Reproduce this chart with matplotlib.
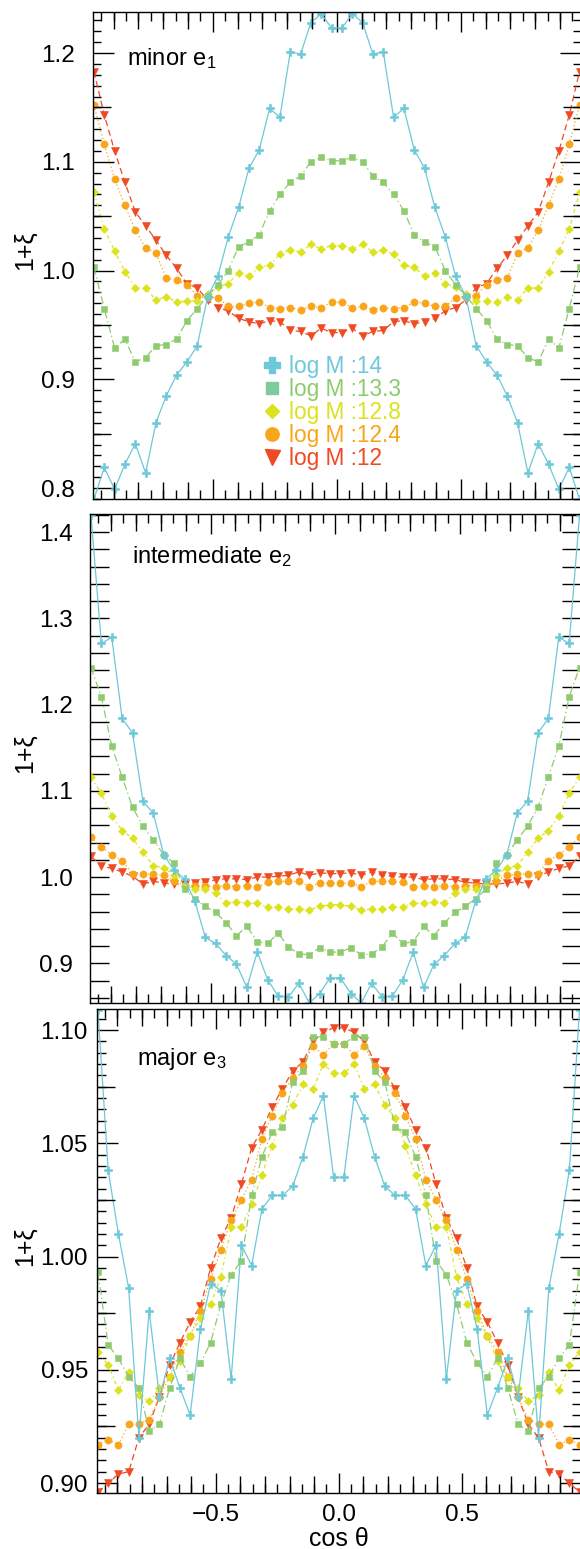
import numpy as np
import matplotlib
matplotlib.use("Agg")
import matplotlib.pyplot as plt
from matplotlib.lines import Line2D
from matplotlib.ticker import MultipleLocator, FuncFormatter, NullLocator

plt.rcParams["font.family"] = ["Liberation Sans", "DejaVu Sans"]
plt.rcParams["mathtext.fontset"] = "custom"
plt.rcParams["mathtext.rm"] = "Liberation Sans"
plt.rcParams["mathtext.it"] = "Liberation Sans:italic"
plt.rcParams["mathtext.default"] = "regular"

# ---------------- data ----------------
COS_THETA = np.linspace(-23.5 / 24, 23.5 / 24, 48)
MASS_LABELS = ["log M :14", "log M :13.3", "log M :12.8", "log M :12.4", "log M :12"]
PANEL_NAMES = ["minor e$_1$", "intermediate e$_2$", "major e$_3$"]

# panel 1 : minor axis e1
E1_M14 = [0.790, 0.819, 0.799, 0.822, 0.841, 0.814, 0.860, 0.885, 0.904, 0.916, 0.931, 0.976,
          0.995, 1.031, 1.058, 1.094, 1.111, 1.149, 1.141, 1.201, 1.199, 1.228, 1.236, 1.223,
          1.223, 1.236, 1.228, 1.199, 1.201, 1.141, 1.149, 1.111, 1.094, 1.058, 1.031, 0.995,
          0.976, 0.931, 0.916, 0.904, 0.885, 0.860, 0.814, 0.841, 0.822, 0.799, 0.819, 0.790]
E1_M133 = [1.003, 0.965, 0.929, 0.937, 0.916, 0.920, 0.931, 0.932, 0.937, 0.954, 0.965, 0.977,
           0.987, 1.000, 1.022, 1.026, 1.033, 1.055, 1.070, 1.081, 1.087, 1.100, 1.104, 1.101,
           1.101, 1.104, 1.100, 1.087, 1.081, 1.070, 1.055, 1.033, 1.026, 1.022, 1.000, 0.987,
           0.977, 0.965, 0.954, 0.937, 0.932, 0.931, 0.920, 0.916, 0.937, 0.929, 0.965, 1.003]
E1_M128 = [1.072, 1.038, 1.018, 0.999, 0.984, 0.984, 0.973, 0.976, 0.971, 0.972, 0.972, 0.978,
           0.985, 0.988, 0.998, 0.995, 1.003, 1.005, 1.015, 1.019, 1.017, 1.024, 1.020, 1.023,
           1.023, 1.020, 1.024, 1.017, 1.019, 1.015, 1.005, 1.003, 0.995, 0.998, 0.988, 0.985,
           0.978, 0.972, 0.972, 0.971, 0.976, 0.973, 0.984, 0.984, 0.999, 1.018, 1.038, 1.072]
E1_M124 = [1.152, 1.116, 1.084, 1.060, 1.037, 1.021, 1.016, 0.993, 0.991, 0.987, 0.977, 0.976,
           0.975, 0.967, 0.967, 0.970, 0.971, 0.966, 0.965, 0.966, 0.964, 0.967, 0.966, 0.971,
           0.971, 0.966, 0.967, 0.964, 0.966, 0.965, 0.966, 0.971, 0.970, 0.967, 0.967, 0.975,
           0.976, 0.977, 0.987, 0.991, 0.993, 1.016, 1.021, 1.037, 1.060, 1.084, 1.116, 1.152]
E1_M12 = [1.183, 1.143, 1.110, 1.081, 1.054, 1.041, 1.028, 1.014, 1.002, 0.988, 0.984, 0.973,
          0.966, 0.963, 0.956, 0.953, 0.951, 0.954, 0.953, 0.945, 0.944, 0.940, 0.947, 0.943,
          0.943, 0.947, 0.940, 0.944, 0.945, 0.953, 0.954, 0.951, 0.953, 0.956, 0.963, 0.966,
          0.973, 0.984, 0.988, 1.002, 1.014, 1.028, 1.041, 1.054, 1.081, 1.110, 1.143, 1.183]

# panel 2 : intermediate axis e2
E2_M14 = [1.420, 1.271, 1.278, 1.184, 1.167, 1.088, 1.074, 1.026, 1.008, 0.998, 0.972, 0.930,
          0.923, 0.909, 0.899, 0.872, 0.913, 0.881, 0.862, 0.861, 0.877, 0.854, 0.865, 0.883,
          0.883, 0.865, 0.854, 0.877, 0.861, 0.862, 0.881, 0.913, 0.872, 0.899, 0.909, 0.923,
          0.930, 0.972, 0.998, 1.008, 1.026, 1.074, 1.088, 1.167, 1.184, 1.278, 1.271, 1.420]
E2_M133 = [1.243, 1.209, 1.152, 1.116, 1.081, 1.059, 1.043, 1.026, 1.016, 0.986, 0.975, 0.966,
           0.959, 0.947, 0.932, 0.943, 0.925, 0.923, 0.935, 0.919, 0.911, 0.910, 0.918, 0.913,
           0.913, 0.918, 0.910, 0.911, 0.919, 0.935, 0.923, 0.925, 0.943, 0.932, 0.947, 0.959,
           0.966, 0.975, 0.986, 1.016, 1.026, 1.043, 1.059, 1.081, 1.116, 1.152, 1.209, 1.243]
E2_M128 = [1.116, 1.097, 1.071, 1.054, 1.045, 1.029, 1.013, 1.011, 1.002, 0.991, 0.986, 0.986,
           0.981, 0.970, 0.971, 0.970, 0.970, 0.965, 0.965, 0.963, 0.963, 0.962, 0.966, 0.968,
           0.968, 0.966, 0.962, 0.963, 0.963, 0.965, 0.965, 0.970, 0.970, 0.971, 0.970, 0.981,
           0.986, 0.986, 0.991, 1.002, 1.011, 1.013, 1.029, 1.045, 1.054, 1.071, 1.097, 1.116]
E2_M124 = [1.046, 1.035, 1.026, 1.019, 1.004, 1.004, 1.003, 1.002, 0.996, 0.990, 0.990, 0.990,
           0.989, 0.990, 0.989, 0.990, 0.988, 0.994, 0.995, 0.995, 0.995, 0.989, 0.993, 0.993,
           0.993, 0.993, 0.989, 0.995, 0.995, 0.995, 0.994, 0.988, 0.990, 0.989, 0.990, 0.989,
           0.990, 0.990, 0.990, 0.996, 1.002, 1.003, 1.004, 1.004, 1.019, 1.026, 1.035, 1.046]
E2_M12 = [1.024, 1.013, 1.010, 1.006, 1.001, 0.992, 0.995, 0.993, 0.992, 0.992, 0.993, 0.994,
          0.997, 0.998, 0.998, 0.997, 1.000, 1.000, 1.001, 1.002, 1.006, 1.002, 1.005, 1.004,
          1.004, 1.005, 1.002, 1.006, 1.002, 1.001, 1.000, 1.000, 0.997, 0.998, 0.998, 0.997,
          0.994, 0.993, 0.992, 0.992, 0.993, 0.995, 0.992, 1.001, 1.006, 1.010, 1.013, 1.024]

# panel 3 : major axis e3
E3_M14 = [1.109, 1.038, 1.010, 0.986, 0.920, 0.976, 0.938, 0.955, 0.942, 0.930, 0.968, 0.988,
          0.985, 0.946, 1.005, 0.996, 1.021, 1.027, 1.027, 1.031, 1.044, 1.061, 1.071, 1.035,
          1.035, 1.071, 1.061, 1.044, 1.031, 1.027, 1.027, 1.021, 0.996, 1.005, 0.946, 0.985,
          0.988, 0.968, 0.930, 0.942, 0.955, 0.938, 0.976, 0.920, 0.986, 1.010, 1.038, 1.109]
E3_M133 = [0.993, 0.961, 0.955, 0.947, 0.942, 0.923, 0.926, 0.942, 0.955, 0.947, 0.953, 0.962,
           0.979, 0.992, 0.998, 1.027, 1.044, 1.055, 1.057, 1.077, 1.082, 1.097, 1.097, 1.094,
           1.094, 1.097, 1.097, 1.082, 1.077, 1.057, 1.055, 1.044, 1.027, 0.998, 0.992, 0.979,
           0.962, 0.953, 0.947, 0.955, 0.942, 0.926, 0.923, 0.942, 0.947, 0.955, 0.961, 0.993]
E3_M128 = [0.958, 0.952, 0.941, 0.949, 0.939, 0.936, 0.942, 0.947, 0.954, 0.965, 0.973, 0.979,
           0.991, 1.013, 1.013, 1.023, 1.036, 1.049, 1.061, 1.067, 1.076, 1.074, 1.085, 1.081,
           1.081, 1.085, 1.074, 1.076, 1.067, 1.061, 1.049, 1.036, 1.023, 1.013, 1.013, 0.991,
           0.979, 0.973, 0.965, 0.954, 0.947, 0.942, 0.936, 0.939, 0.949, 0.941, 0.952, 0.958]
E3_M124 = [0.917, 0.919, 0.917, 0.926, 0.926, 0.928, 0.938, 0.947, 0.958, 0.965, 0.976, 0.990,
           1.003, 1.016, 1.025, 1.034, 1.052, 1.062, 1.072, 1.079, 1.084, 1.093, 1.089, 1.094,
           1.094, 1.089, 1.093, 1.084, 1.079, 1.072, 1.062, 1.052, 1.034, 1.025, 1.016, 1.003,
           0.990, 0.976, 0.965, 0.958, 0.947, 0.938, 0.928, 0.926, 0.926, 0.917, 0.919, 0.917]
E3_M12 = [0.896, 0.900, 0.904, 0.905, 0.920, 0.926, 0.938, 0.952, 0.962, 0.971, 0.978, 0.995,
          1.008, 1.017, 1.032, 1.048, 1.056, 1.066, 1.074, 1.082, 1.086, 1.095, 1.099, 1.101,
          1.101, 1.099, 1.095, 1.086, 1.082, 1.074, 1.066, 1.056, 1.048, 1.032, 1.017, 1.008,
          0.995, 0.978, 0.971, 0.962, 0.952, 0.938, 0.926, 0.920, 0.905, 0.904, 0.900, 0.896]

PANEL_DATA = [
    [E1_M14, E1_M133, E1_M128, E1_M124, E1_M12],
    [E2_M14, E2_M133, E2_M128, E2_M124, E2_M12],
    [E3_M14, E3_M133, E3_M128, E3_M124, E3_M12],
]

# ---------------- style ----------------
COLORS = ["#6DC8D9", "#8ECB6F", "#DCE21C", "#F9A51A", "#EF4A23"]
LEGEND_FACE = ["#6DC8D9", "#7FCBA0", "#DCE21C", "#F9A51A", "#EF4A23"]
MARKERS = ["P", "s", "D", "o", "v"]
MSIZE = [6.3, 4.5, 4.3, 5.2, 6.0]
LEG_MSIZE = [12.0, 8.0, 7.0, 9.6, 10.8]
LSTYLES = ["-", (0, (6, 2.5, 1, 2.5)), (0, (3, 2.5, 1, 2.5)), (0, (1, 2)), (0, (5, 3))]

W, H = 580, 1549
# (left, right, top, bottom) in pixels
PANEL_BOX = [(93, 580.5, 12, 499), (90, 580.5, 514, 1003), (97, 580.5, 1009, 1493)]
YLIMS = [(0.790, 1.2377), (0.854, 1.421), (0.8956, 1.1093)]
YMAJOR = [0.1, 0.1, 0.05]
YMINOR = [0.01, 0.02, 0.005]
YMED = [0.05, None, 0.025]
YMINLEN = [5.8, 13.5, 6.5]
YFMT = ["%.1f", "%.1f", "%.2f"]
YPAD = [13, 12.5, 6.5]
NAME_POS = [(0.070, 0.891), (0.0856, 0.900), (0.0827, 0.884)]
XLIM = (-0.983, 0.983)

fig = plt.figure(figsize=(W / 100, H / 100), dpi=100)


def fmt_x(v, pos):
    s = "%.1f" % v
    return s.replace("-", "\u2212")


for p in range(3):
    l, r, t, b = PANEL_BOX[p]
    rect = [l / W, (H - b) / H, (r - l) / W, (b - t) / H]
    ax = fig.add_axes(rect)
    order = [4, 3, 2, 1, 0]
    for i in order:
        ax.plot(COS_THETA, PANEL_DATA[p][i], color=COLORS[i], ls=LSTYLES[i], lw=0.9,
                marker=MARKERS[i], ms=MSIZE[i], mfc=COLORS[i], mec=COLORS[i], mew=0.4,
                zorder=2 + (4 - i) * 0.1)
    ax.set_xlim(*XLIM)
    ax.set_ylim(*YLIMS[p])
    for sp in ax.spines.values():
        sp.set_linewidth(1.0)

    ax.xaxis.set_major_locator(MultipleLocator(0.5))
    ax.xaxis.set_minor_locator(MultipleLocator(0.05))
    ax.yaxis.set_major_locator(MultipleLocator(YMAJOR[p]))
    ax.yaxis.set_minor_locator(MultipleLocator(YMINOR[p]))
    ax.yaxis.set_major_formatter(FuncFormatter(lambda v, pos, f=YFMT[p]: f % v))
    ax.xaxis.set_major_formatter(FuncFormatter(fmt_x))
    ax.tick_params(which="both", direction="in", top=True, right=True, width=1.0,
                   colors="black")
    ax.tick_params(axis="x", which="major", length=14.4, pad=8, labelsize=17.5)
    ax.tick_params(axis="x", which="minor", length=6.5)
    ax.tick_params(axis="y", which="major", length=15.0 if p != 1 else 13.5,
                   pad=YPAD[p], labelsize=17.5)
    ax.tick_params(axis="y", which="minor", length=YMINLEN[p])
    if p < 2:
        ax.tick_params(axis="x", labelbottom=False)

    ax.set_ylabel("1+\u03be", fontsize=18)
    ax.yaxis.set_label_coords((25 - l) / (r - l), 0.51)
    ax.yaxis.label.set_va("center")

    ax.text(NAME_POS[p][0], NAME_POS[p][1], PANEL_NAMES[p], transform=ax.transAxes,
            fontsize=17, ha="left", va="baseline")

    if p == 2:
        ax.set_xlabel("cos \u03b8", fontsize=18)
        ax.xaxis.set_label_coords(0.5, (b - 1539) / (b - t))
        ax.xaxis.label.set_va("center")

    # medium-length ticks overlay
    ov = fig.add_axes(rect, frameon=False)
    ov.patch.set_visible(False)
    ov.set_xlim(*XLIM)
    ov.set_ylim(*YLIMS[p])
    medx = [m / 10 for m in range(-9, 10) if m % 5 != 0]
    ov.set_xticks(medx)
    if YMED[p] is not None:
        lo, hi = YLIMS[p]
        k0 = int(np.ceil(lo / YMED[p] - 1e-6))
        k1 = int(np.floor(hi / YMED[p] + 1e-6))
        medy = [k * YMED[p] for k in range(k0, k1 + 1) if k % 2 != 0]
        ov.set_yticks(medy)
    else:
        ov.set_yticks([])
    ov.xaxis.set_minor_locator(NullLocator())
    ov.yaxis.set_minor_locator(NullLocator())
    ov.tick_params(which="both", direction="in", top=True, right=True, bottom=True, left=True,
                   labelbottom=False, labelleft=False, width=1.0)
    ov.tick_params(axis="x", length=12.2)
    ov.tick_params(axis="y", length=13.0)

    if p == 0:
        handles = [Line2D([], [], ls="none", marker=MARKERS[i], ms=LEG_MSIZE[i],
                          mfc=LEGEND_FACE[i], mec=LEGEND_FACE[i]) for i in range(5)]
        ax.legend(handles, MASS_LABELS, loc="upper left", bbox_to_anchor=(0.344, 0.2967),
                  frameon=False, fontsize=16.3, labelcolor=COLORS, handlelength=1.0,
                  handletextpad=0.25, labelspacing=0.0, borderpad=0, borderaxespad=0)

fig.savefig("out.png", dpi=100)
